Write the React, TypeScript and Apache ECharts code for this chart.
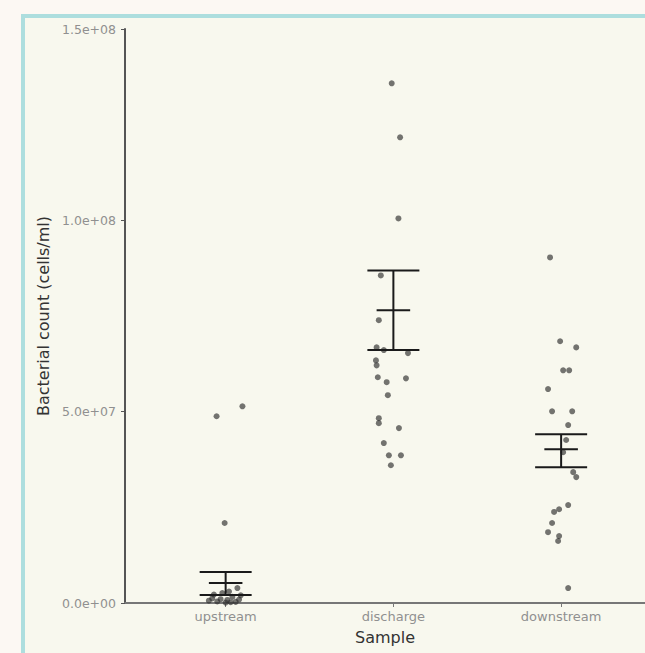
import React, { useEffect, useRef } from "react";
import * as echarts from "echarts";

const categories = ["upstream", "discharge", "downstream"];
const yTickValues = [0, 5e7, 1e8, 1.5e8];
const yTickLabels = ["0.0e+00", "5.0e+07", "1.0e+08", "1.5e+08"];

// [category position + jitter, bacterial count]
const upstreamPoints: [number, number][] = [
  [0.946, 4.88e7], [1.1, 5.14e7], [0.994, 2.09e7],
  [1.07, 3.9e6], [0.92, 1.2e6], [0.95, 0.4e6], [0.98, 2.6e6], [1.01, 0.8e6],
  [1.04, 1.6e6], [1.06, 0.3e6], [1.09, 2.0e6], [0.9, 0.6e6], [1.03, 0.2e6],
  [0.97, 1.0e6], [1.0, 0.1e6], [0.93, 2.2e6], [1.08, 0.9e6], [1.02, 3.0e6],
];
const dischargePoints: [number, number][] = [
  [1.99, 1.358e8], [2.04, 1.217e8], [2.03, 1.005e8], [1.925, 8.56e7],
  [1.913, 7.39e7], [1.9, 6.68e7], [1.943, 6.61e7], [2.087, 6.53e7],
  [1.896, 6.34e7], [1.9, 6.21e7], [1.907, 5.9e7], [1.96, 5.77e7],
  [2.075, 5.87e7], [1.967, 5.43e7], [1.913, 4.83e7], [1.913, 4.7e7],
  [2.033, 4.57e7], [1.943, 4.18e7], [1.973, 3.86e7], [2.045, 3.86e7],
  [1.985, 3.6e7],
];
const downstreamPoints: [number, number][] = [
  [2.934, 9.03e7], [2.994, 6.84e7], [3.09, 6.68e7], [3.012, 6.08e7],
  [3.048, 6.08e7], [2.922, 5.59e7], [2.946, 5.01e7], [3.066, 5.01e7],
  [3.042, 4.65e7], [3.03, 4.26e7], [3.012, 3.94e7], [3.072, 3.42e7],
  [3.09, 3.29e7], [3.042, 2.56e7], [2.988, 2.45e7], [2.958, 2.38e7],
  [2.946, 2.09e7], [2.922, 1.85e7], [2.988, 1.75e7], [2.982, 1.62e7],
  [3.042, 3.9e6],
];

// error bars per category: lower, mean, upper
const errLower = [2.1e6, 6.61e7, 3.55e7];
const errMean = [5.2e6, 7.65e7, 4.02e7];
const errUpper = [8.1e6, 8.69e7, 4.41e7];

export default function App() {
  const ref = useRef<HTMLDivElement>(null);
  useEffect(() => {
    if (!ref.current) return;
    const chart = echarts.init(ref.current, undefined, { renderer: "svg" });
    const errData = categories.map((_, i) => [i + 1, errLower[i], errMean[i], errUpper[i]]);
    const pointStyle = { color: "rgba(45,45,45,0.82)" };
    const font = "DejaVu Sans";
    chart.setOption({
      animation: false,
      backgroundColor: "transparent",
      grid: { left: 125, right: 0, top: 29, bottom: 50 },
      xAxis: {
        type: "value",
        min: 0.4,
        max: 3.5,
        name: "Sample",
        nameLocation: "middle",
        nameGap: 26,
        nameTextStyle: { fontSize: 16, color: "#333", fontFamily: font },
        axisLine: { show: true, lineStyle: { color: "#777", width: 2 } },
        axisTick: { show: true, length: 4, customValues: [1, 2, 3], lineStyle: { color: "#777" } },
        axisLabel: {
          customValues: [1, 2, 3],
          formatter: (v: number) => categories[Math.round(v) - 1] ?? "",
          fontSize: 13,
          color: "#909090",
          margin: 7,
          fontFamily: font,
        },
        splitLine: { show: false },
      },
      yAxis: {
        type: "value",
        min: 0,
        max: 1.5e8,
        interval: 5e7,
        name: "Bacterial count (cells/ml)",
        nameLocation: "middle",
        nameGap: 72,
        nameTextStyle: { fontSize: 16, color: "#333", fontFamily: font },
        axisLine: { show: true, lineStyle: { color: "#555", width: 2 } },
        axisTick: { show: true, length: 4, lineStyle: { color: "#555" } },
        axisLabel: {
          formatter: (v: number) => {
            const i = yTickValues.indexOf(v);
            return i >= 0 ? yTickLabels[i] : "";
          },
          fontSize: 12.5,
          color: "#909090",
          margin: 9,
          fontFamily: font,
        },
        splitLine: { show: false },
      },
      series: [
        { type: "scatter", data: upstreamPoints, symbolSize: 6, itemStyle: pointStyle },
        { type: "scatter", data: dischargePoints, symbolSize: 6, itemStyle: pointStyle },
        { type: "scatter", data: downstreamPoints, symbolSize: 6, itemStyle: pointStyle },
        {
          type: "custom",
          data: errData,
          encode: { x: 0, y: [1, 2, 3] },
          z: 5,
          renderItem: (params: any, api: any) => {
            const x = api.value(0);
            const lo = api.coord([x, api.value(1)]);
            const m = api.coord([x, api.value(2)]);
            const hi = api.coord([x, api.value(3)]);
            const capHalf = api.size([0.155, 0])[0];
            const meanHalf = api.size([0.1, 0])[0];
            const style = { stroke: "#1a1a1a", lineWidth: 2 };
            return {
              type: "group",
              children: [
                { type: "line", shape: { x1: hi[0], y1: hi[1], x2: lo[0], y2: lo[1] }, style },
                { type: "line", shape: { x1: hi[0] - capHalf, y1: hi[1], x2: hi[0] + capHalf, y2: hi[1] }, style },
                { type: "line", shape: { x1: lo[0] - capHalf, y1: lo[1], x2: lo[0] + capHalf, y2: lo[1] }, style },
                { type: "line", shape: { x1: m[0] - meanHalf, y1: m[1], x2: m[0] + meanHalf, y2: m[1] }, style },
              ],
            };
          },
        },
      ],
    });
    return () => chart.dispose();
  }, []);

  return (
    <div style={{ position: "fixed", left: 0, top: 0, width: 645, height: 653, overflow: "hidden", background: "#fcf8f3" }}>
      <div
        style={{
          position: "absolute",
          left: 21,
          top: 14,
          width: 645,
          height: 650,
          boxSizing: "border-box",
          border: "4px solid #addede",
          background: "#f8f8ee",
        }}
      />
      <div ref={ref} style={{ position: "absolute", left: 0, top: 0, width: 645, height: 653 }} />
    </div>
  );
}
